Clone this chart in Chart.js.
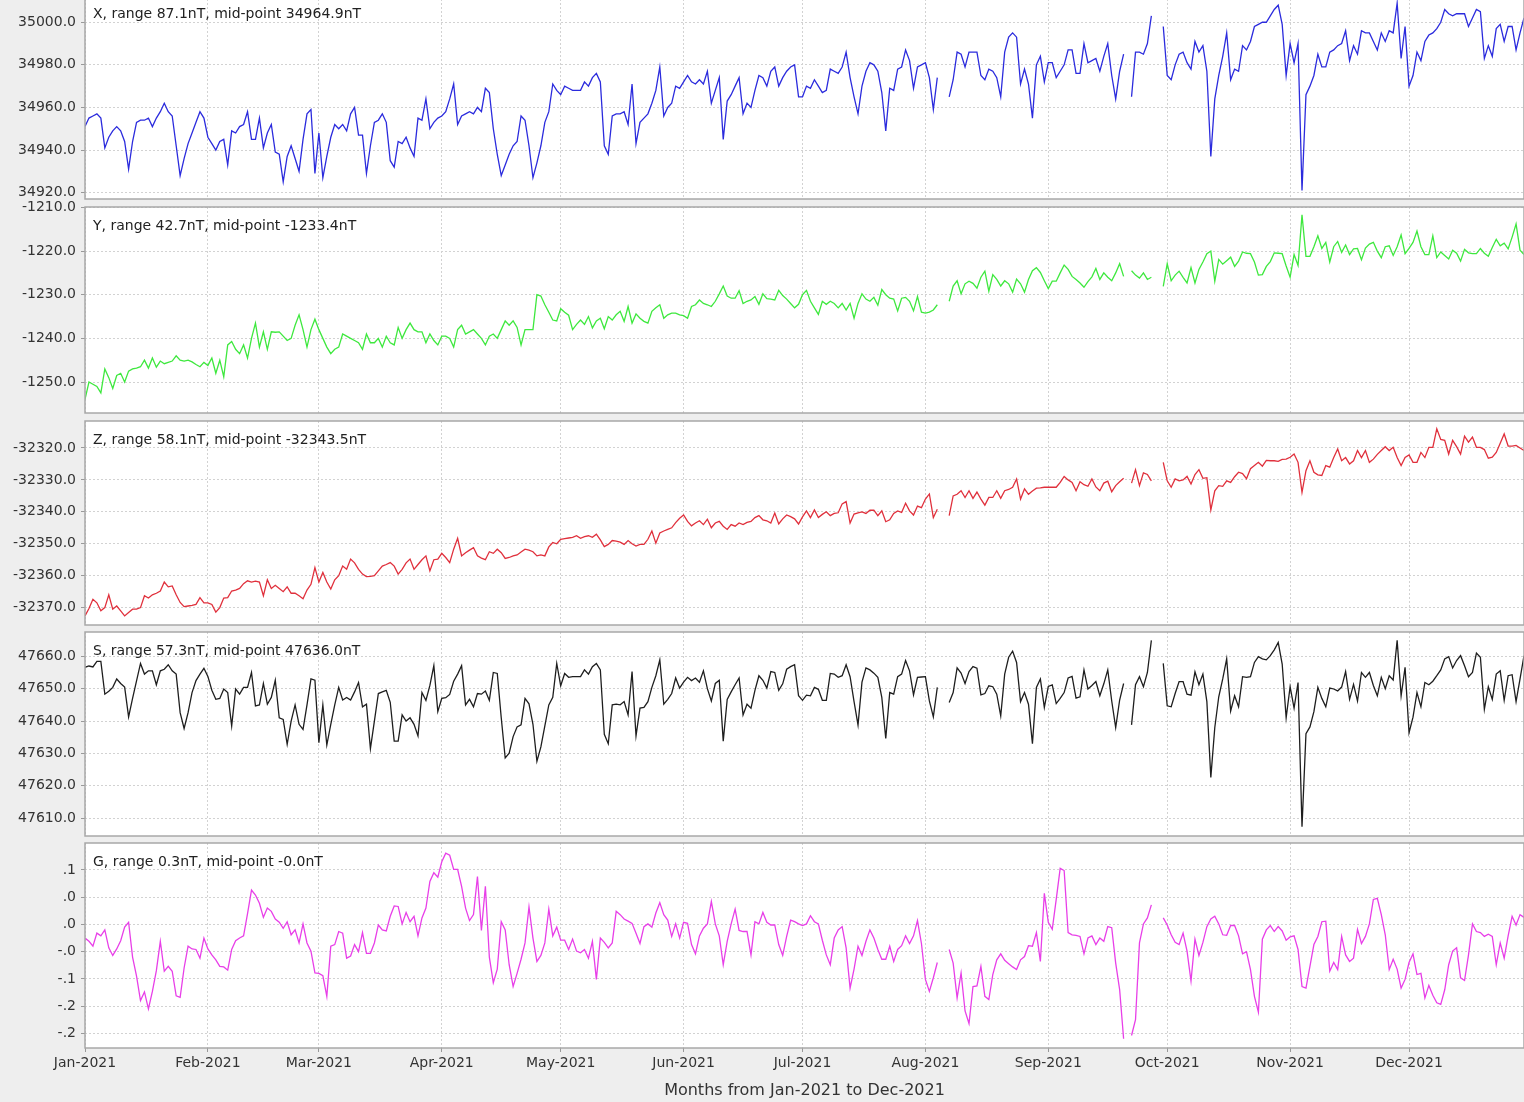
<!DOCTYPE html>
<html>
<head>
<meta charset="utf-8">
<script src="https://cdn.jsdelivr.net/npm/chart.js@4.4.1/dist/chart.umd.min.js"></script>
<style>
  html, body { margin: 0; padding: 0; background: #eeeeee; }
  body { width: 1524px; height: 1102px; position: relative; overflow: hidden; font-family: "DejaVu Sans", sans-serif; }
  .panel { position: absolute; left: 0; width: 1524px; }
</style>
</head>
<body>
<div class="panel" style="top:-19px;height:232px"><canvas id="chartX"></canvas></div>
<div class="panel" style="top:193px;height:234px"><canvas id="chartY"></canvas></div>
<div class="panel" style="top:407px;height:232px"><canvas id="chartZ"></canvas></div>
<div class="panel" style="top:618px;height:232px"><canvas id="chartS"></canvas></div>
<div class="panel" style="top:829px;height:273px"><canvas id="chartG"></canvas></div>
<script>
// day index 0 = 1 Jan 2021, one value per day, null = no data
const monthStarts = [0, 31, 59, 90, 120, 151, 181, 212, 243, 273, 304, 334];
const monthLabels = ["Jan-2021", "Feb-2021", "Mar-2021", "Apr-2021", "May-2021", "Jun-2021",
  "Jul-2021", "Aug-2021", "Sep-2021", "Oct-2021", "Nov-2021", "Dec-2021"];

const xValues = [
  34951,34955,34956,34957,34955,34941,34946,34949,34951,34949,34944,34931,34944,34953,34954,34954,34955,34951,34955,34958,34962,34958,34956,34942,34928,34936,34943,34948,34953,34958,34955,
  34946,34943,34940,34944,34945,34933,34949,34948,34951,34952,34958,34945,34945,34955,34941,34948,34952,34939,34938,34925,34937,34942,34936,34930,34945,34957,34959,34929,
  34948,34927,34937,34946,34952,34950,34952,34949,34957,34960,34947,34947,34929,34942,34953,34954,34957,34953,34935,34932,34944,34943,34946,34941,34937,34955,34954,34964,34950,34953,34955,
  34956,34958,34964,34971,34952,34956,34957,34958,34957,34960,34958,34969,34967,34950,34938,34928,34933,34938,34942,34944,34956,34954,34942,34927,34934,34942,34953,34958,34971,34968,
  34966,34970,34969,34968,34968,34968,34972,34970,34974,34976,34972,34942,34938,34956,34957,34957,34958,34952,34971,34943,34953,34955,34957,34962,34968,34979,34956,34960,34962,34970,34969,
  34972,34975,34972,34971,34973,34971,34977,34962,34968,34974,34945,34963,34966,34970,34974,34957,34962,34960,34968,34975,34974,34970,34977,34979,34970,34974,34977,34979,34980,34965,
  34965,34970,34969,34973,34970,34967,34968,34978,34977,34976,34979,34986,34974,34965,34957,34970,34977,34981,34980,34977,34967,34949,34969,34968,34978,34979,34987,34982,34969,34979,34980,
  34981,34974,34959,34974,null,null,34965,34973,34986,34985,34979,34986,34986,34986,34975,34973,34978,34977,34974,34965,34986,34993,34995,34993,34971,34978,34971,34955,34980,34984,34972,
  34981,34981,34974,34977,34980,34987,34987,34976,34976,34990,34981,34982,34983,34977,34984,34990,34975,34964,34977,34985,null,34965,34986,34986,34985,34990,35003,null,null,34998,
  34975,34973,34980,34985,34986,34981,34978,34991,34986,34989,34977,34937,34964,34975,34984,34995,34973,34978,34977,34989,34987,34991,34998,34999,35000,35000,35003,35006,35008,34999,34975,
  34990,34981,34990,34921,34966,34970,34975,34985,34979,34979,34986,34987,34989,34990,34996,34982,34989,34985,34996,34995,34995,34991,34987,34995,34991,34996,34995,35009,34983,34998,
  34970,34975,34986,34982,34991,34994,34995,34997,35000,35006,35004,35003,35004,35004,35004,34998,35002,35006,35005,34983,34989,34984,34997,34999,34991,34998,34998,34987,34995,35002
];

const yValues = [
  -1254,-1250,-1250.5,-1251,-1252.5,-1247,-1249,-1251.5,-1248.5,-1248,-1250,-1247.5,-1247,-1246.8,-1246.5,-1245,-1246.8,-1244.5,-1246.6,-1245.2,-1245.8,-1245.5,-1245.2,-1244,-1245,-1245.2,-1245,-1245.4,-1246,-1246.5,-1245.5,
  -1246.2,-1244.5,-1248,-1245,-1248.8,-1241.5,-1240.7,-1242.5,-1243.5,-1241.5,-1244.5,-1240,-1236.5,-1242,-1238.5,-1242.5,-1238.5,-1238.6,-1238.5,-1239.5,-1240.5,-1240,-1237,-1234.6,-1238,-1242,-1238,-1235.6,
  -1238,-1240,-1242,-1243.5,-1242.5,-1242,-1239,-1239.5,-1240,-1240.5,-1241,-1242.5,-1239,-1241,-1241,-1240,-1242,-1239.5,-1241,-1241.5,-1237.5,-1240,-1238,-1236.5,-1238,-1238.5,-1238.5,-1241,-1239,-1240.5,-1241.5,
  -1239.5,-1239.5,-1240,-1242,-1238,-1237,-1239,-1238.5,-1238,-1239,-1240,-1241.5,-1239.5,-1239,-1240,-1238,-1236,-1237,-1236,-1237.5,-1241.5,-1238,-1238,-1238,-1230,-1230.3,-1232.3,-1234,-1235.8,-1236,
  -1233.2,-1234,-1234.7,-1238,-1236.8,-1235.8,-1236.8,-1235,-1237.6,-1236,-1235.4,-1237.8,-1235,-1235.8,-1234.6,-1233.8,-1236.1,-1232.7,-1236.5,-1234.4,-1235.4,-1236.1,-1236.5,-1233.8,-1233,-1232.3,-1235.4,-1234.6,-1234.2,-1234.2,-1234.6,
  -1234.8,-1235.4,-1232.7,-1232.3,-1231.2,-1232,-1232.3,-1232.7,-1231.5,-1229.8,-1228,-1230.3,-1230.8,-1230.8,-1229.1,-1232,-1231.5,-1231.2,-1230.4,-1232.2,-1229.8,-1230.9,-1231,-1231.2,-1229,-1230.2,-1231,-1232,-1233,-1232.2,
  -1230,-1229,-1231.5,-1233,-1234.5,-1231.5,-1232.2,-1231.5,-1232,-1233,-1232,-1233.5,-1232,-1235.4,-1232,-1229.8,-1231,-1231.5,-1230.6,-1232.4,-1228.8,-1230,-1230.8,-1231,-1233.7,-1230.8,-1230.6,-1231.5,-1233.7,-1230.4,-1234,
  -1234.2,-1234,-1233.5,-1232.3,null,null,-1231.5,-1228,-1226.8,-1229.8,-1227.5,-1226.9,-1227.4,-1228.5,-1226,-1224.6,-1229.2,-1225.4,-1226.5,-1228,-1226.8,-1227.5,-1229.4,-1226.4,-1227.5,-1229.4,-1226.5,-1224.5,-1223.8,-1224.9,-1226.8,
  -1228.6,-1226.9,-1226.9,-1225,-1223.2,-1224.2,-1225.8,-1226.5,-1227.3,-1228.3,-1227,-1225.9,-1224,-1226.5,-1225,-1226,-1226.8,-1225,-1222.9,-1225.8,null,-1224.5,-1225.5,-1226.2,-1225,-1226.5,-1226,null,null,-1228.1,
  -1222.9,-1226.8,-1225.5,-1224.6,-1226,-1227.3,-1223.8,-1227.3,-1224.2,-1222.5,-1220.6,-1220,-1226.9,-1221.9,-1223,-1222.2,-1221.4,-1223.5,-1222.3,-1220.2,-1220.5,-1220.6,-1222.5,-1225.5,-1225.4,-1223.5,-1222.4,-1220.4,-1220.5,-1220.6,-1223.4,
  -1226,-1220.8,-1223.3,-1211.7,-1221.2,-1221.2,-1219,-1216.5,-1219.4,-1218,-1222.5,-1219,-1217.8,-1220.3,-1218.6,-1220.8,-1219.5,-1219.4,-1222,-1219.3,-1218.4,-1218,-1220,-1221.5,-1219,-1218.8,-1221,-1219,-1216.3,-1220.6,
  -1219.4,-1218,-1215.4,-1219,-1220.8,-1220.8,-1216.5,-1221.5,-1220.2,-1221,-1221.8,-1219.8,-1220.5,-1222.3,-1219.6,-1220.4,-1220.6,-1220.6,-1219.4,-1220.5,-1221.2,-1219.2,-1217.3,-1218.8,-1218.2,-1219.5,-1216.8,-1213.8,-1219.8,-1220.8
];

const zValues = [
  -32372.6,-32370.3,-32367.4,-32368.5,-32371,-32370,-32366,-32370.5,-32369.5,-32371,-32372.6,-32371.5,-32370.5,-32370.5,-32370,-32366.3,-32367,-32366,-32365.5,-32364.8,-32362,-32363.5,-32363.2,-32366,-32368.4,-32369.7,-32369.5,-32369.3,-32369,-32366.9,-32368.5,
  -32368.5,-32369,-32371.4,-32370,-32367,-32366.9,-32364.8,-32364.5,-32364,-32362.5,-32361.6,-32362,-32361.7,-32362,-32366.3,-32361.3,-32364,-32363,-32364,-32365,-32363.5,-32365.5,-32365.5,-32366.3,-32367.2,-32364.5,-32362.7,-32357.5,
  -32362,-32359,-32362,-32364.2,-32361.3,-32360,-32357,-32358,-32354.8,-32356,-32358,-32359.5,-32360.3,-32360.2,-32360,-32358.5,-32357,-32356.5,-32355.9,-32357,-32359.5,-32358,-32356,-32354.8,-32358,-32356.5,-32355,-32353.8,-32358.5,-32355,-32354.8,
  -32353,-32354.3,-32355.9,-32351.7,-32348.3,-32353.8,-32352.8,-32352,-32351.2,-32353.8,-32354.5,-32355,-32352.5,-32353,-32351.7,-32352.8,-32354.6,-32354.3,-32353.8,-32353.5,-32352.6,-32351.7,-32352,-32352.5,-32353.8,-32353.5,-32353.8,-32351,-32349.6,-32350,
  -32348.6,-32348.4,-32348.2,-32348,-32347.5,-32348.3,-32347.8,-32347.5,-32348,-32347,-32348.8,-32350.9,-32350.2,-32349,-32349.2,-32349.5,-32350.2,-32349,-32350,-32350.7,-32350.2,-32350.2,-32348.6,-32346,-32349.8,-32346.6,-32346,-32345.5,-32345,-32343.4,-32342,
  -32341,-32343,-32344.4,-32343.5,-32342.8,-32344,-32342.3,-32345,-32343.5,-32343,-32344.5,-32345.5,-32344,-32344.5,-32343.5,-32344,-32343.3,-32343,-32341.8,-32341.2,-32342.5,-32342.8,-32343.5,-32340.4,-32343.8,-32342.2,-32341,-32341.5,-32342.2,-32343.8,
  -32341.6,-32339.7,-32341.8,-32339.4,-32341.8,-32340.8,-32340,-32341.2,-32340.5,-32340.3,-32337.5,-32336.8,-32343.5,-32340.7,-32340.3,-32340,-32340.5,-32339.5,-32339.5,-32341.2,-32339.7,-32343.1,-32342.5,-32340.5,-32339.7,-32340.2,-32337.3,-32339.7,-32341,-32338.2,-32338.7,
  -32336,-32334.4,-32341.8,-32339.2,null,null,-32341.2,-32335,-32334.5,-32333.4,-32335.5,-32333.4,-32335.8,-32333.8,-32336,-32337.9,-32335.5,-32335.5,-32333.4,-32335.8,-32333.4,-32333,-32332.3,-32329.7,-32336,-32332.8,-32334.5,-32333.5,-32332.6,-32332.5,-32332.3,
  -32332.3,-32332.3,-32332.3,-32330.8,-32328.9,-32330,-32330.8,-32333.4,-32330.6,-32331.5,-32332,-32329.7,-32332.2,-32333.4,-32331,-32330.4,-32333.7,-32331.8,-32330.6,-32329.5,null,-32331,-32326.8,-32331.8,-32327.8,-32328.3,-32330.3,null,null,-32324.5,
  -32330.3,-32332.3,-32329.7,-32330.3,-32330,-32328.9,-32331.3,-32328.3,-32326.8,-32329.5,-32329.3,-32339.4,-32333.4,-32331.8,-32332,-32330.3,-32330.8,-32329,-32327.6,-32328,-32329.6,-32326.5,-32325.5,-32324.5,-32325.7,-32323.9,-32324,-32324,-32324.2,-32323.6,-32323.5,
  -32322.9,-32321.9,-32324.5,-32333.9,-32327.1,-32324,-32327.6,-32328.4,-32328.6,-32325.5,-32326,-32323,-32320.3,-32324,-32323,-32325,-32324,-32320.8,-32323,-32320.8,-32324.5,-32323.5,-32322,-32320.8,-32319.6,-32320.8,-32319.8,-32323,-32325.5,-32323,
  -32322.2,-32324.5,-32324.5,-32321.4,-32323,-32319.8,-32319.8,-32314,-32317.3,-32317.6,-32321.9,-32317.6,-32319.6,-32321.9,-32316.3,-32318.2,-32316.6,-32319.8,-32319.8,-32320.5,-32323.2,-32322.9,-32321.4,-32318.5,-32315.6,-32319.4,-32319.4,-32319.2,-32320,-32320.8
];

const sValues = [
  47656.6,47657,47656.7,47658.4,47658.4,47648.3,47649.2,47650.4,47653,47651.6,47650.5,47641.3,47647,47652.4,47657.8,47654.5,47655.5,47655.5,47651.2,47655.5,47656,47657.4,47655.5,47654.5,47642.6,47637.7,47642.6,47648.8,47652.5,47654.5,47656.3,
  47653.8,47649.5,47646.7,47647,47649.9,47648.8,47638.5,47649.9,47648.3,47650.4,47650.4,47655,47644.7,47645,47651.6,47645.2,47647.3,47652.6,47641,47640.5,47632.8,47640,47645,47639,47637.4,47645,47653,47652.6,
  47633.3,47645,47632.6,47639,47645,47650.4,47646.5,47647.3,47646.5,47649,47651.9,47644.4,47645.2,47631.5,47640,47648.5,47649,47649.5,47645.8,47633.8,47633.8,47641.9,47640,47641,47639,47635.4,47648.8,47646.4,47651,47657.1,47642.9,
  47647,47647.2,47648.2,47652.3,47654.5,47657.1,47645,47646.7,47644.4,47648.5,47648.3,47649.3,47646.4,47655,47654.7,47641,47628.6,47630.1,47635.2,47638.2,47638.8,47647,47645.3,47639,47627.6,47632,47638.5,47645,47647.3,47657.8,
  47650.9,47654.7,47653.5,47653.7,47653.7,47653.7,47655.8,47654.5,47656.8,47657.8,47655.8,47635.9,47633,47645,47645.2,47645,47646,47641.9,47655.3,47635.4,47644,47644.2,47646,47650.4,47654,47658.9,47645.2,47646.7,47648.5,47653.3,47650.2,
  47652,47653.5,47652.5,47653.3,47652,47655.5,47650,47646.2,47651.6,47652.6,47633.8,47646.7,47649,47651.2,47653.3,47641.9,47645.2,47644,47649.5,47654,47652.6,47650.2,47655.3,47655,47649.5,47651.5,47656,47656.8,47657.4,47647.8,
  47646.4,47648,47647.8,47650.4,47649.8,47646.4,47646.4,47654.7,47654.5,47653.5,47654,47657.4,47653.7,47646,47638.8,47652,47656.4,47655.8,47654.8,47653.5,47647.3,47634.6,47648.8,47648.3,47653.7,47654.5,47658.7,47655.5,47648.1,47653.5,47653.6,
  47653.7,47646.2,47641.3,47650.4,null,null,47645.7,47648.8,47656.4,47654.8,47651.6,47655.3,47656.8,47656.3,47648.1,47648.5,47650.9,47650.6,47648.3,47641.6,47654.5,47659.7,47661.6,47658.1,47646,47648.8,47645.2,47633,47650.4,47653,47644.2,
  47650.7,47651.2,47645.4,47647,47648.8,47653.3,47653.8,47647.1,47647.5,47655.8,47649.9,47651,47652.2,47647.8,47651.5,47655.8,47646.2,47638,47646.5,47651.6,null,47638.8,47651.2,47653.7,47650.6,47655,47664.9,null,null,47657.8,
  47644.7,47644.4,47648.5,47652.2,47652.2,47648.3,47648,47655.2,47651.2,47654.5,47646,47622.6,47638,47647.5,47653,47659.2,47643.1,47647.8,47644.4,47653.7,47653.5,47653.7,47658.1,47659.9,47659.2,47658.9,47660.2,47662,47664.3,47657.6,47641,
  47650.6,47644,47651.9,47607.4,47636.1,47638.2,47642.9,47650.4,47647,47644.4,47650.2,47649.9,47649.3,47650.5,47655.3,47646.7,47651.3,47646.2,47655,47653.5,47655,47651,47647.8,47653.5,47650,47654,47652.7,47664.9,47647.8,47656.6,
  47636.4,47641.2,47648.8,47644.4,47651.9,47651.2,47652.3,47654,47655.8,47659.2,47659.9,47656.4,47658.7,47660.2,47657.1,47653.7,47655,47661,47659.7,47643.6,47650.6,47646.7,47654.5,47655.5,47646.4,47654,47654.3,47646,47653,47660.2
];

const gValues = [
  -0.025,-0.031,-0.040,-0.016,-0.021,-0.010,-0.043,-0.057,-0.045,-0.030,-0.005,0.004,-0.060,-0.095,-0.140,-0.124,-0.155,-0.123,-0.085,-0.031,-0.086,-0.077,-0.086,-0.131,-0.134,-0.080,-0.040,-0.045,-0.046,-0.062,-0.025,
  -0.045,-0.056,-0.065,-0.077,-0.078,-0.084,-0.046,-0.030,-0.025,-0.021,0.020,0.063,0.054,0.039,0.013,0.030,0.024,0.010,0.004,-0.007,0.005,-0.019,-0.010,-0.034,0.001,-0.034,-0.049,-0.089,
  -0.090,-0.094,-0.132,-0.040,-0.037,-0.013,-0.016,-0.062,-0.058,-0.037,-0.050,-0.015,-0.053,-0.053,-0.034,-0.001,-0.010,-0.012,0.015,0.034,0.033,0.001,0.022,0.005,0.015,-0.021,0.012,0.030,0.079,0.095,0.087,
  0.115,0.131,0.127,0.101,0.101,0.070,0.030,0.007,0.018,0.088,-0.011,0.070,-0.060,-0.107,-0.082,0.005,-0.010,-0.074,-0.114,-0.090,-0.064,-0.034,0.032,-0.025,-0.068,-0.057,-0.034,0.028,-0.021,-0.005,
  -0.029,-0.029,-0.046,-0.027,-0.049,-0.052,-0.046,-0.062,-0.031,-0.101,-0.025,-0.033,-0.043,-0.034,0.024,0.018,0.010,0.006,0.002,-0.016,-0.035,-0.004,0.001,-0.005,0.021,0.040,0.018,0.008,-0.022,0.001,-0.025,
  0.004,0.002,-0.037,-0.054,-0.021,-0.007,0.001,0.042,0.001,-0.021,-0.074,-0.031,0.001,0.028,-0.011,-0.013,-0.013,-0.056,0.005,0.001,0.022,0.004,-0.001,-0.001,-0.037,-0.057,-0.022,0.008,0.005,0.001,
  -0.002,0.001,0.016,0.005,0.001,-0.029,-0.056,-0.074,-0.025,-0.010,-0.004,-0.043,-0.117,-0.082,-0.040,-0.057,-0.031,-0.010,-0.025,-0.046,-0.064,-0.064,-0.040,-0.068,-0.046,-0.039,-0.021,-0.035,-0.021,0.007,-0.035,
  -0.101,-0.123,-0.098,-0.070,null,null,-0.046,-0.071,-0.135,-0.089,-0.159,-0.182,-0.114,-0.113,-0.077,-0.132,-0.138,-0.092,-0.065,-0.054,-0.066,-0.072,-0.078,-0.083,-0.065,-0.059,-0.039,-0.040,-0.015,-0.068,0.057,
  0.004,-0.009,0.046,0.103,0.099,-0.015,-0.019,-0.020,-0.022,-0.054,-0.025,-0.021,-0.037,-0.025,-0.031,-0.004,-0.006,-0.071,-0.120,-0.210,null,-0.204,-0.175,-0.034,0.001,0.012,0.036,null,null,0.012,
  -0.001,-0.019,-0.033,-0.037,-0.016,-0.049,-0.104,-0.027,-0.057,-0.033,-0.004,0.010,0.015,0.001,-0.019,-0.020,-0.002,-0.002,-0.021,-0.054,-0.050,-0.083,-0.132,-0.161,-0.027,-0.010,-0.002,-0.013,-0.004,-0.012,-0.029,
  -0.023,-0.021,-0.046,-0.114,-0.117,-0.077,-0.037,-0.022,0.005,0.006,-0.086,-0.070,-0.083,-0.022,-0.056,-0.068,-0.062,-0.009,-0.035,-0.022,0.001,0.046,0.048,0.018,-0.019,-0.083,-0.064,-0.082,-0.117,-0.101,
  -0.070,-0.054,-0.092,-0.090,-0.135,-0.112,-0.130,-0.144,-0.147,-0.120,-0.074,-0.049,-0.043,-0.098,-0.103,-0.056,0.001,-0.013,-0.015,-0.022,-0.018,-0.022,-0.074,-0.034,-0.062,-0.021,0.015,-0.001,0.018,0.013
];

const xTicks = [34920, 34940, 34960, 34980, 35000];
const yTicks = [-1250, -1240, -1230, -1220, -1210];
const zTicks = [-32370, -32360, -32350, -32340, -32330, -32320];
const sTicks = [47610, 47620, 47630, 47640, 47650, 47660];
const gTicks = [-0.2, -0.15, -0.1, -0.05, 0, 0.05, 0.1];
const gTickLabels = ["-.2", "-.2", "-.1", "-.0", ".0", ".0", ".1"];

const gridColor = "#d2d2d2";
const tickFont = { family: "DejaVu Sans", size: 14 };

// white plot area, grey frame and the little caption in the corner
const panelPlugin = {
  id: "panel",
  beforeDraw(chart) {
    const a = chart.chartArea, ctx = chart.ctx;
    ctx.save();
    ctx.fillStyle = "#ffffff";
    ctx.fillRect(a.left, a.top, a.right - a.left, a.bottom - a.top);
    ctx.restore();
  },
  afterDraw(chart, args, opts) {
    const a = chart.chartArea, ctx = chart.ctx;
    ctx.save();
    ctx.strokeStyle = "#a8a8a8";
    ctx.lineWidth = 1.5;
    ctx.strokeRect(a.left, a.top, a.right - a.left, a.bottom - a.top);
    ctx.fillStyle = "#222222";
    ctx.font = '14px "DejaVu Sans"';
    ctx.textBaseline = "middle";
    ctx.fillText(opts.note, a.left + 8, a.top + 19);
    ctx.restore();
  }
};

function makePanel(id, values, color, min, max, ticks, fmt, note, bottomAxis) {
  new Chart(document.getElementById(id), {
    type: "line",
    data: {
      datasets: [{
        data: values.map((v, i) => ({ x: i, y: v })),
        borderColor: color,
        borderWidth: 1.3,
        pointRadius: 0,
        tension: 0,
        spanGaps: false
      }]
    },
    options: {
      responsive: true,
      maintainAspectRatio: false,
      animation: false,
      layout: { padding: { top: 14, bottom: bottomAxis ? 0 : 14, left: 0, right: 0 } },
      plugins: {
        legend: { display: false },
        tooltip: { enabled: false },
        panel: { note: note }
      },
      scales: {
        x: {
          type: "linear",
          min: 0,
          max: 363,
          afterBuildTicks: s => { s.ticks = monthStarts.map(v => ({ value: v })); },
          afterFit: s => { s.height = bottomAxis ? 54 : 0; },
          ticks: {
            display: bottomAxis,
            autoSkip: false,
            maxRotation: 0,
            padding: 3,
            color: "#333333",
            font: tickFont,
            callback: v => monthLabels[monthStarts.indexOf(v)]
          },
          grid: { color: gridColor, drawTicks: bottomAxis, tickLength: 4, tickColor: "#999999" },
          border: { display: false, dash: [2, 2] },
          title: {
            display: bottomAxis,
            text: "Months from Jan-2021 to Dec-2021",
            color: "#333333",
            font: { family: "DejaVu Sans", size: 16 },
            padding: { top: 0, bottom: 2 }
          }
        },
        y: {
          min: min,
          max: max,
          afterBuildTicks: s => { s.ticks = ticks.map(v => ({ value: v })); },
          afterFit: s => { s.width = 85; },
          ticks: { color: "#333333", font: tickFont, padding: 5, callback: fmt },
          grid: { color: gridColor, tickLength: 4, tickColor: "#999999" },
          border: { display: false, dash: [2, 2] }
        }
      }
    },
    plugins: [panelPlugin]
  });
}

const oneDecimal = v => v.toFixed(1);

makePanel("chartX", xValues, "#2b2bdd", 34917, 35012.8, xTicks, oneDecimal,
  "X, range 87.1nT, mid-point 34964.9nT", false);
makePanel("chartY", yValues, "#3ee83e", -1257.1, -1209.9, yTicks, oneDecimal,
  "Y, range 42.7nT, mid-point -1233.4nT", false);
makePanel("chartZ", zValues, "#e0303c", -32375.45, -32311.55, zTicks, oneDecimal,
  "Z, range 58.1nT, mid-point -32343.5nT", false);
makePanel("chartS", sValues, "#1e1e1e", 47604.5, 47667.5, sTicks, oneDecimal,
  "S, range 57.3nT, mid-point 47636.0nT", false);
makePanel("chartG", gValues, "#e83fe8", -0.227, 0.1496, gTicks,
  v => gTickLabels[gTicks.findIndex(t => Math.abs(t - v) < 1e-9)],
  "G, range 0.3nT, mid-point -0.0nT", true);
</script>
</body>
</html>
